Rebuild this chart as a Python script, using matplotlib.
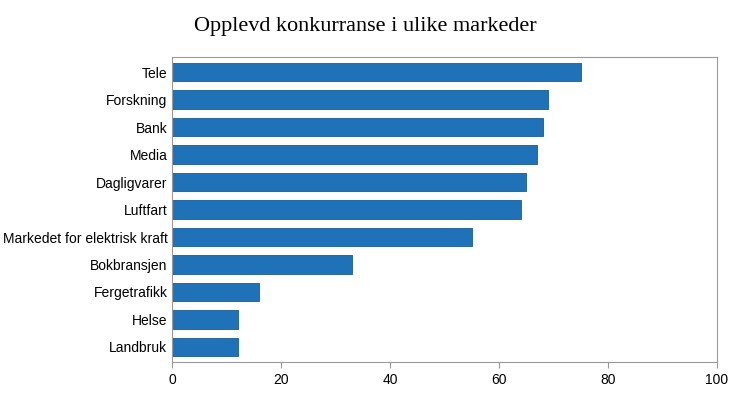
import matplotlib
matplotlib.use("Agg")
import matplotlib.pyplot as plt

markets = ["Tele", "Forskning", "Bank", "Media", "Dagligvarer", "Luftfart",
           "Markedet for elektrisk kraft", "Bokbransjen", "Fergetrafikk", "Helse", "Landbruk"]
values = [75, 69, 68, 67, 65, 64, 55, 33, 16, 12, 12]
xticks = [0, 20, 40, 60, 80, 100]

plt.rcParams['font.family'] = ['Liberation Sans', 'DejaVu Sans']
fig = plt.figure(figsize=(7.3, 4.01), dpi=100, facecolor='white')
ax = fig.add_axes([0.236, 0.097, 0.746, 0.761])

y = list(range(len(markets)))[::-1]
ax.barh(y, values, height=0.68, color='#1f72b8', edgecolor='#1a5c94', linewidth=0.6)
ax.set_yticks(y)
ax.set_yticklabels(markets, fontsize=10)
ax.set_xticks(xticks)
ax.set_xticklabels([str(t) for t in xticks], fontsize=10)
ax.set_xlim(0, 100)
ax.set_ylim(-0.55, len(markets) - 0.45)
for s in ax.spines.values():
    s.set_color('#999999')
    s.set_linewidth(0.8)
ax.tick_params(axis='y', length=0)
ax.tick_params(axis='x', length=4, color='#999999')

fig.text(0.5, 0.935, "Opplevd konkurranse i ulike markeder", ha='center', va='center',
         fontsize=16, family='Liberation Serif')

fig.savefig("out.png", dpi=100)
